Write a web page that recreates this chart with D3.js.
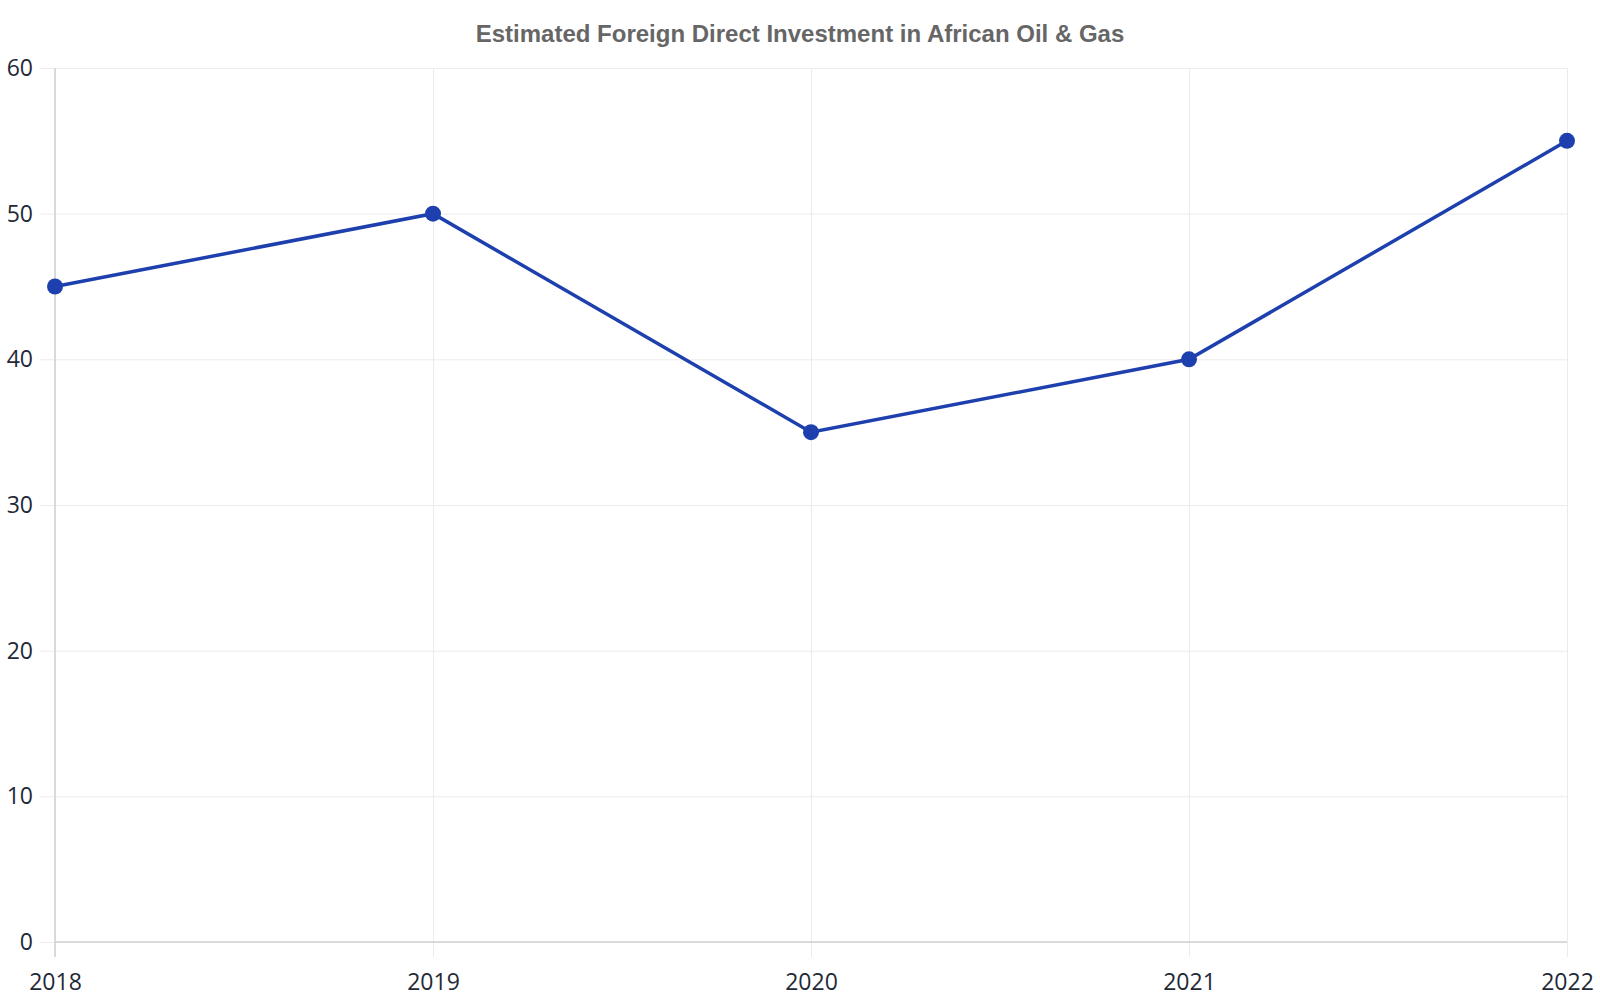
<!DOCTYPE html>
<html>
<head>
<meta charset="utf-8">
<script src="https://cdn.jsdelivr.net/npm/d3@7"></script>
<style>
  body { margin: 0; background: #fff; }
  svg { display: block; }
</style>
</head>
<body>
<svg id="canvas" width="1600" height="1000"></svg>
<script>
// chart values
var years = [2018, 2019, 2020, 2021, 2022];
var fdiValues = [45, 50, 35, 40, 55];
var yTicks = [0, 10, 20, 30, 40, 50, 60];
var chartTitle = 'Estimated Foreign Direct Investment in African Oil & Gas';

var outerWidth = 1600, outerHeight = 1000;
var margin = { left: 55, top: 68, right: 33, bottom: 58 };
var innerWidth = outerWidth - margin.left - margin.right;
var innerHeight = outerHeight - margin.top - margin.bottom;

var x = d3.scaleLinear().domain(d3.extent(years)).range([0, innerWidth]);
var y = d3.scaleLinear().domain([0, 60]).range([innerHeight, 0]);

var svg = d3.select('#canvas');

svg.append('text')
  .attr('x', outerWidth / 2)
  .attr('y', 42)
  .attr('text-anchor', 'middle')
  .style('font', 'bold 24px "Liberation Sans", Arial, sans-serif')
  .style('fill', '#666')
  .text(chartTitle);

var g = svg.append('g')
  .attr('transform', 'translate(' + margin.left + ',' + margin.top + ')');

// y grid + ticks
var yAxis = g.append('g')
  .attr('class', 'yAxis')
  .call(d3.axisLeft(y).tickValues(yTicks).tickSize(15).tickPadding(7));
yAxis.select('.domain').remove();
yAxis.selectAll('line').attr('stroke', '#ebebeb');
yAxis.selectAll('text')
  .style('font', '23px "Open Sans", sans-serif')
  .style('fill', '#1f2937');
g.append('g')
  .attr('class', 'yGrid')
  .call(d3.axisLeft(y).tickValues(yTicks).tickSize(-innerWidth).tickFormat(''))
  .call(s => s.select('.domain').remove())
  .selectAll('line').attr('stroke', '#ebebeb');

// x grid + ticks
var xAxis = g.append('g')
  .attr('class', 'xAxis')
  .attr('transform', 'translate(0,' + innerHeight + ')')
  .call(d3.axisBottom(x).tickValues(years).tickFormat(d3.format('d')).tickSize(15).tickPadding(17));
xAxis.select('.domain').remove();
xAxis.selectAll('line').attr('stroke', '#ebebeb');
xAxis.selectAll('text')
  .style('font', '23px "Open Sans", sans-serif')
  .style('fill', '#1f2937');
g.append('g')
  .attr('class', 'xGrid')
  .call(d3.axisTop(x).tickValues(years).tickSize(-innerHeight).tickFormat(''))
  .call(s => s.select('.domain').remove())
  .selectAll('line').attr('stroke', '#ebebeb');

// axis lines
g.append('line')
  .attr('x1', 0).attr('x2', 0)
  .attr('y1', 0).attr('y2', innerHeight + 15)
  .attr('stroke', '#d0d0d0').attr('stroke-width', 1.5);
g.append('line')
  .attr('x1', 0).attr('x2', innerWidth)
  .attr('y1', innerHeight).attr('y2', innerHeight)
  .attr('stroke', '#d0d0d0').attr('stroke-width', 1.5);

var points = years.map((yr, i) => ({ xValue: yr, yValue: fdiValues[i] }));

var line = d3.line()
  .x(d => x(d.xValue))
  .y(d => y(d.yValue));

g.append('path')
  .attr('d', line(points))
  .style('fill', 'none')
  .style('stroke', '#1e40af')
  .style('stroke-width', 3.5);

g.selectAll('circle')
  .data(points)
  .enter()
  .append('circle')
  .attr('cx', d => x(d.xValue))
  .attr('cy', d => y(d.yValue))
  .attr('r', 8)
  .style('fill', '#1e40af');
</script>
</body>
</html>
